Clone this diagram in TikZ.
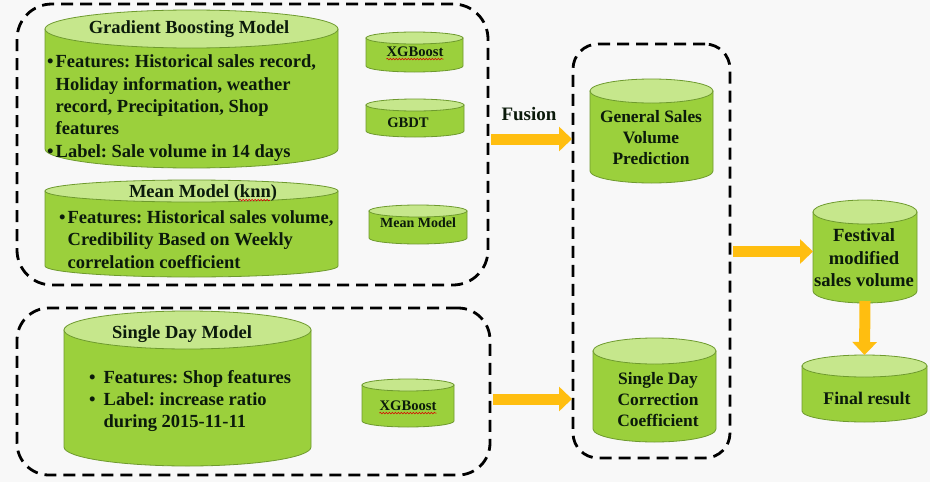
\documentclass[tikz,border=0pt]{standalone}
\usepackage{fontspec}
\setmainfont{Liberation Serif}
\usepackage{tikz}
\usetikzlibrary{arrows.meta,calc,decorations.pathmorphing}
\usepackage{xcolor}
\frenchspacing
\definecolor{drumgreen}{HTML}{9BD03C}
\definecolor{drumlight}{HTML}{C6E78C}
\definecolor{drumedge}{HTML}{6E9A2E}
\definecolor{arrowgold}{HTML}{FFBE10}
\definecolor{inkgreen}{HTML}{0B1A0B}
\definecolor{paper}{HTML}{F8F8F8}

\newcommand\drum[6]{%
  \pgfmathsetmacro\drumrx{(#4-#2)/2}
  \filldraw[drumbody] (#2,#3+#6) -- (#2,#5-#6) arc[start angle=180,end angle=360,x radius=\drumrx pt,y radius=#6pt] -- (#4,#3+#6) -- cycle;
  \filldraw[drumtop] ({(#2+#4)/2},#3+#6) ellipse[x radius=\drumrx pt,y radius=#6pt];
  \coordinate (#1-west) at (#2,{(#3+#5)/2});
  \coordinate (#1-north) at ({(#2+#4)/2},#3);
  \coordinate (#1-south) at ({(#2+#4)/2},#5);
}

\tikzset{
  drumbody/.style={fill=drumgreen,draw=drumedge,line width=0.8pt},
  drumtop/.style={fill=drumlight,draw=drumedge,line width=0.8pt},
  dashbox/.style={draw=black,line width=2.8pt,dash pattern=on 12pt off 7pt,inner sep=0pt},
  goldarrow/.style={draw=arrowgold,line width=11pt,-{Triangle[width=24pt,length=13pt]}},
  spellwave/.style={draw=red!85!black,line width=0.6pt,decorate,decoration={snake,amplitude=0.8pt,segment length=3pt}},
  bigtext/.style={font=\bfseries\fontsize{18.5}{22.3}\selectfont,text=inkgreen,inner sep=0pt},
  midtext/.style={font=\bfseries\fontsize{17.4}{21}\selectfont,text=inkgreen,inner sep=0pt,align=center},
  smalltext/.style={font=\bfseries\fontsize{14.6}{16}\selectfont,text=inkgreen,inner sep=0pt}
}

\begin{document}
\begin{tikzpicture}[x=1pt,y=-1pt]
\useasboundingbox (0,0) rectangle (930,482);
\fill[paper] (0,0) rectangle (930,482);

\node[dashbox,rounded corners=35pt,minimum width=471pt,minimum height=281pt] (gbbox) at (252.5,144.5) {};
\node[dashbox,rounded corners=32pt,minimum width=473pt,minimum height=167pt] (sdbox) at (253.5,391.5) {};
\node[dashbox,rounded corners=25pt,minimum width=157pt,minimum height=414pt] (midbox) at (651.5,251) {};

\drum{gbm}{45}{10}{338}{168}{19}
\node[bigtext] (gbmtitle) at (189,29) {Gradient Boosting Model};
\node[bigtext,anchor=west] (gbmlist) at (47,108) {\begin{tabular}{@{}l@{\hspace{2pt}}l@{}}
•&Features: Historical sales record,\\
&Holiday information, weather\\
&record, Precipitation, Shop\\
&features\\
•&Label: Sale volume in 14 days
\end{tabular}};

\drum{mean}{45}{180}{338}{277}{11}
\node[bigtext] (meantitle) at (203,193.5) {Mean Model (knn)};
\draw[spellwave] ([xshift=-38pt,yshift=2pt]meantitle.south east) -- ([xshift=-7pt,yshift=2pt]meantitle.south east);
\node[bigtext,anchor=west] (meanlist) at (59,241.5) {\begin{tabular}{@{}l@{\hspace{2pt}}l@{}}
•&Features: Historical sales volume,\\
&Credibility Based on Weekly\\
&correlation coefficient
\end{tabular}};

\drum{xgb}{366}{32}{463}{72}{6}
\node[smalltext] (xgbtext) at (415,52) {XGBoost};
\draw[spellwave] ([yshift=-2pt]xgbtext.south west) -- ([yshift=-2pt]xgbtext.south east);
\drum{gbdt}{366}{99}{464}{137}{6}
\node[smalltext] (gbdttext) at (408,123) {GBDT};
\drum{meansm}{369}{205}{467}{244}{6}
\node[smalltext,font=\bfseries\fontsize{14}{16}\selectfont] (meansmtext) at (418,223) {Mean Model};

\drum{sdm}{64}{311}{311}{466}{19}
\node[bigtext] (sdmtitle) at (182,334.5) {Single Day Model};
\node[bigtext,anchor=west] (sdmlist) at (89,401) {\begin{tabular}{@{}l@{\hspace{8pt}}l@{}}
•&Features: Shop features\\
•&Label: increase ratio\\
&during 2015-11-11
\end{tabular}};
\drum{xgbsd}{362}{379}{454}{427}{6}
\node[smalltext] (xgbsdtext) at (408,406) {XGBoost};
\draw[spellwave] ([yshift=-2pt]xgbsdtext.south west) -- ([yshift=-2pt]xgbsdtext.south east);

\drum{gsv}{590}{79}{713}{183}{12}
\node[midtext] (gsvtext) at (651,138) {General Sales\\Volume\\Prediction};
\drum{sdc}{593}{338}{716}{442}{13}
\node[midtext] (sdctext) at (658,400) {Single Day\\Correction\\Coefficient};
\drum{fest}{813}{200}{917}{303}{12}
\node[midtext,font=\bfseries\fontsize{18.6}{22.5}\selectfont] (festtext) at (864,258) {Festival\\modified\\sales volume};
\drum{final}{802}{355}{927}{422}{11}
\node[midtext,font=\bfseries\fontsize{17.8}{21}\selectfont] (finaltext) at (867,398) {Final result};

\coordinate (fusein) at (572,139);
\coordinate (sdin) at (572,399);
\node[midtext,font=\bfseries\fontsize{19}{21}\selectfont] (fusion) at (529,114) {Fusion};
\draw[goldarrow] ([xshift=2pt]gbbox.east |- fusein) -- (fusein);
\draw[goldarrow] ([xshift=2pt]sdbox.east |- sdin) -- (sdin);
\draw[goldarrow] ([xshift=2pt]midbox.east |- fest-west) -- (fest-west);
\draw[goldarrow] ([yshift=2pt]fest-south) -- (final-north);
\end{tikzpicture}
\end{document}
